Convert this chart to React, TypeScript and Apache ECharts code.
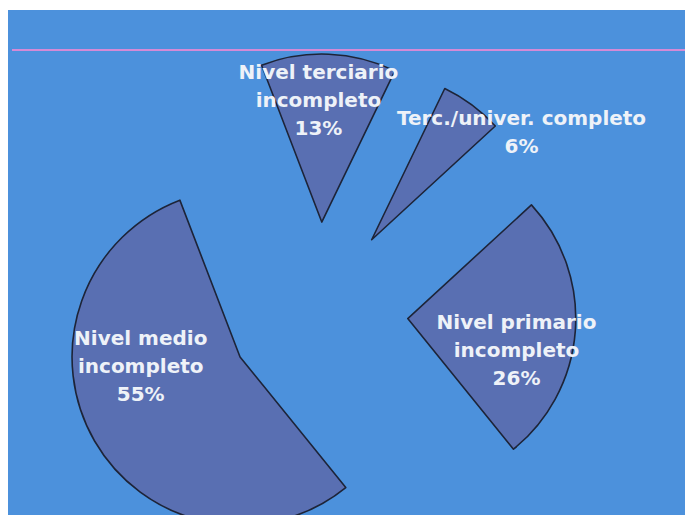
import React, { useEffect, useRef } from "react";
import * as echarts from "echarts";

const categories = [
  "Nivel terciario\nincompleto",
  "Terc./univer. completo",
  "Nivel primario\nincompleto",
  "Nivel medio\nincompleto",
];
const values = [13, 6, 26, 55];
const labelShift = [
  [-7, -35],
  [98, -38],
  [22, 25],
  [-24, -35],
];

export default function App() {
  const ref = useRef<HTMLDivElement>(null);
  useEffect(() => {
    if (!ref.current) return;
    const chart = echarts.init(ref.current, null, { renderer: "svg" });
    chart.setOption({
      animation: false,
      backgroundColor: "#4c91dc",
      graphic: [
        {
          type: "line",
          shape: { x1: 4, y1: 40, x2: 677, y2: 40 },
          style: { stroke: "#d58ad6", lineWidth: 2 },
          z: 1,
        },
      ],
      series: [
        {
          type: "pie",
          center: [310, 302],
          radius: 168,
          startAngle: 111,
          clockwise: true,
          selectedMode: "multiple",
          selectedOffset: 90,
          avoidLabelOverlap: false,
          emphasis: { disabled: true },
          itemStyle: {
            color: "#596fb2",
            borderColor: "#1d2438",
            borderWidth: 1.6,
          },
          label: {
            show: true,
            position: "inside",
            formatter: "{b}\n{c}%",
            color: "#eef2f8",
            fontFamily: "DejaVu Sans",
            fontWeight: "bold",
            fontSize: 20,
            lineHeight: 28,
            align: "center",
          },
          labelLine: { show: false },
          labelLayout: (params: any) => ({
            dx: labelShift[params.dataIndex][0],
            dy: labelShift[params.dataIndex][1],
          }),
          data: categories.map((name, i) => ({
            name,
            value: values[i],
            selected: true,
          })),
        },
      ],
    });
    return () => chart.dispose();
  }, []);
  return (
    <div
      ref={ref}
      style={{ width: 677, height: 505, position: "fixed", left: 8, top: 10 }}
    />
  );
}
